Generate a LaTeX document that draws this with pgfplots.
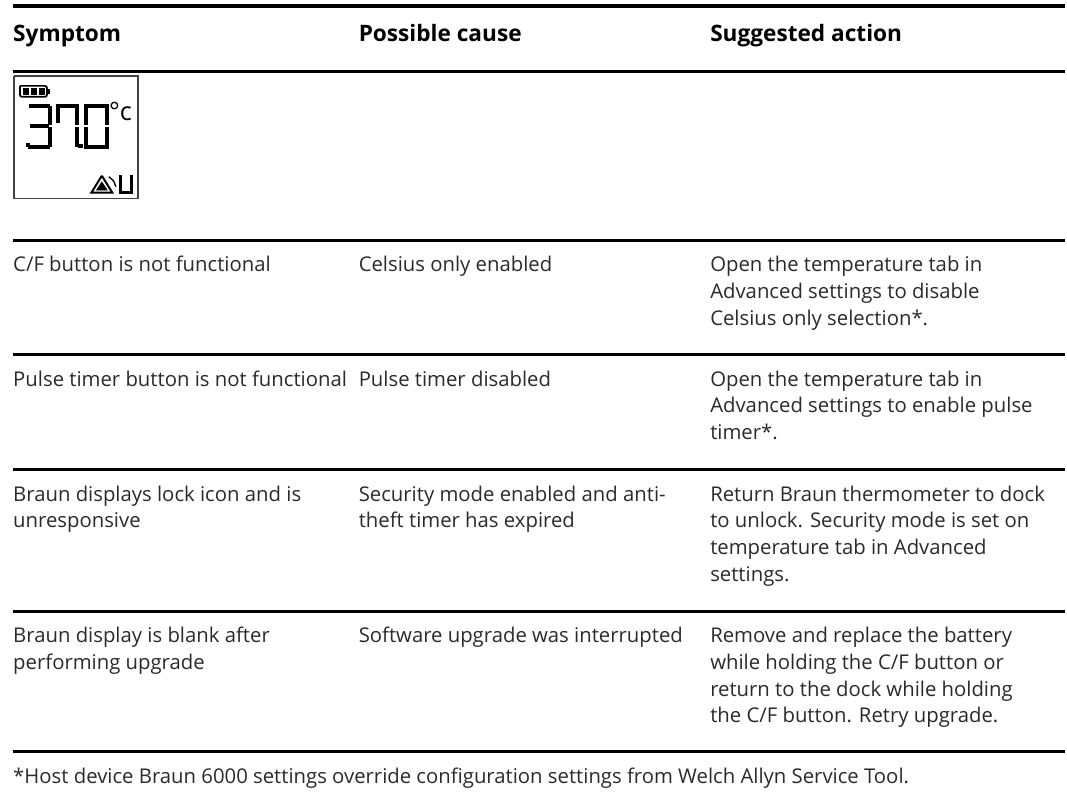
\documentclass[border=0pt]{standalone}
\usepackage{pgfplots}
\pgfplotsset{compat=1.18}
\usepackage{fontspec}
\setmainfont{Open Sans}
\definecolor{tx}{HTML}{2A2A2A}
\newcommand{\T}[3]{\node[anchor=base west,inner sep=0pt,text=tx,font=\fontsize{15.25}{16}\selectfont] at (axis cs:#1,#2) {#3};}
\newcommand{\B}[3]{\node[anchor=base west,inner sep=0pt,text=black,font=\fontsize{17}{18}\selectfont\bfseries] at (axis cs:#1,#2) {#3};}
\begin{document}
\begin{tikzpicture}
\begin{axis}[scale only axis,width=800.25pt,height=608.25pt,xmin=0,xmax=1067,ymin=0,ymax=811,y dir=reverse,hide axis,clip=false]
\path (axis cs:0,0) rectangle (axis cs:1067,811);
% rules
\addplot[black,line width=2.3pt] coordinates {(13,6) (1067,6)};
\addplot[black,line width=2.3pt] coordinates {(13,71.5) (1067,71.5)};
\addplot[black,line width=2.2pt] coordinates {(13,241) (1067,241)};
\addplot[black,line width=2.2pt] coordinates {(13,355) (1067,355)};
\addplot[black,line width=2.2pt] coordinates {(13,470) (1067,470)};
\addplot[black,line width=2.2pt] coordinates {(13,612) (1067,612)};
\addplot[black,line width=2.2pt] coordinates {(13,753) (1067,753)};
% header
\B{13}{41.5}{Symptom}
\B{359}{41.5}{Possible cause}
\B{711}{41.5}{Suggested action}
% icon frame
\addplot[black!75,line width=1.1pt] coordinates {(14,76) (138,76) (138,199) (14,199) (14,76)};
% battery
\addplot[black,line width=1.3pt,rounded corners=1.5pt] coordinates {(20,86) (47,86) (47,97) (20,97) (20,86)};
\addplot[black,line width=1.3pt] coordinates {(49,89) (49,94)};
\addplot[black,line width=5.5pt] coordinates {(23,91.5) (29.5,91.5)};
\addplot[black,line width=5.5pt] coordinates {(31,91.5) (37.5,91.5)};
\addplot[black,line width=5.5pt] coordinates {(39,91.5) (45,91.5)};
% 3
\addplot[black,line width=2.7pt] coordinates {(29,106) (50,106)};
\addplot[black,line width=2.7pt] coordinates {(30,126) (49,126)};
\addplot[black,line width=2.7pt] coordinates {(28,147) (50,147) };
\addplot[black,line width=2.7pt] coordinates {(50,106) (50,125)};
\addplot[black,line width=2.7pt] coordinates {(50,127) (50,147)};
\addplot[black,line width=2.7pt] coordinates {(28,147) (28,143)};
% 7
\addplot[black,line width=2.7pt] coordinates {(58,123) (58,106) (77,106) (77,125)};
\addplot[black,line width=2.7pt] coordinates {(77,127) (77,147)};
% dot
\addplot[black,line width=3.4pt] coordinates {(80.5,144.5) (80.5,148.5)};
% 0
\addplot[black,line width=2.7pt] coordinates {(86,125) (86,106) (107,106) (107,125)};
\addplot[black,line width=2.7pt] coordinates {(86,127) (86,147) (107,147) (107,127)};
% deg C
\node[anchor=base west,inner sep=0pt,font=\fontsize{19}{20}\selectfont] at (axis cs:109,121) {°c};
% warning triangle
\addplot[black,line width=1.5pt] coordinates {(102,176) (112.5,193) (91.5,193) (102,176)};
\addplot[black,fill=black,line width=0.3pt] coordinates {(102,182) (107.5,190.5) (96.5,190.5) (102,182)};
\addplot[black,line width=1pt,smooth] coordinates {(109,177) (113.5,181) (116,187)};
% U
\addplot[black,line width=2pt] coordinates {(121,175) (121,193) (132,193) (132,175)};
% table text
\T{13}{272}{C/F button is not functional}
\T{359}{272}{Celsius only enabled}
\T{711}{272}{Open the temperature tab in}
\T{711}{299}{Advanced settings to disable}
\T{711}{325.5}{Celsius only selection*.}
\T{13}{387}{Pulse timer button is not functional}
\T{359}{387}{Pulse timer disabled}
\T{711}{387}{Open the temperature tab in}
\T{711}{413.5}{Advanced settings to enable pulse}
\T{711}{440}{timer*.}
\T{13}{502}{Braun displays lock icon and is}
\T{13}{528.5}{unresponsive}
\T{359}{502}{Security mode enabled and anti-}
\T{359}{528.5}{theft timer has expired}
\T{711}{502}{Return Braun thermometer to dock}
\T{711}{528.5}{to unlock. Security mode is set on}
\T{711}{555}{temperature tab in Advanced}
\T{711}{582}{settings.}
\T{13}{643}{Braun display is blank after}
\T{13}{670}{performing upgrade}
\T{359}{643}{Software upgrade was interrupted}
\T{711}{643}{Remove and replace the battery}
\T{711}{670}{while holding the C/F button or}
\T{711}{697}{return to the dock while holding}
\T{711}{723.5}{the C/F button. Retry upgrade.}
\T{13}{785}{*Host device Braun 6000 settings override configuration settings from Welch Allyn Service Tool.}
\end{axis}
\end{tikzpicture}
\end{document}
